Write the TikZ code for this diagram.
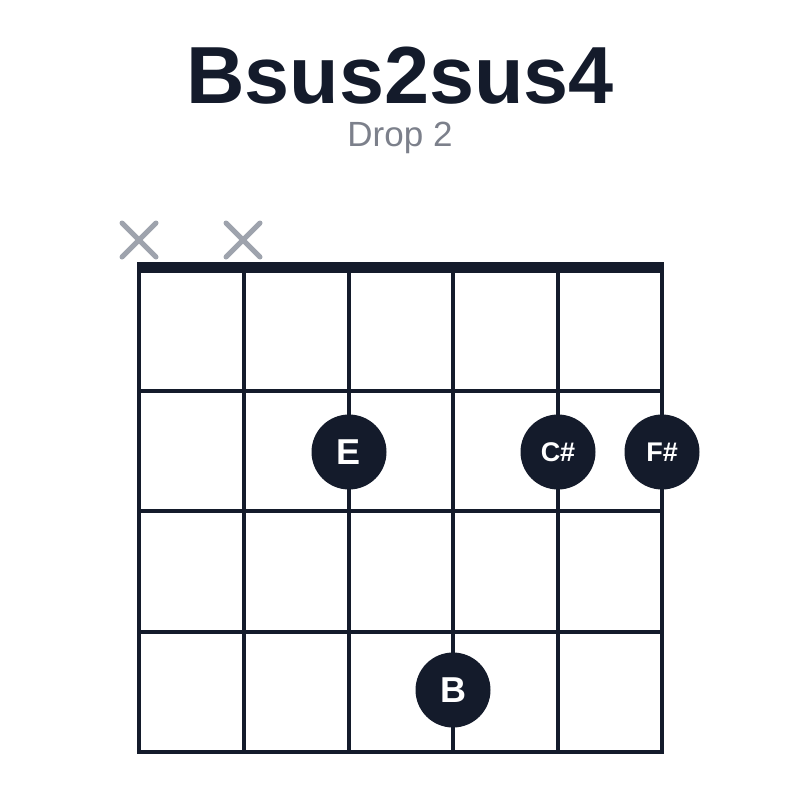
\documentclass[tikz,border=0pt]{standalone}
\usepackage{fontspec}
\setmainfont{Liberation Sans}
\usetikzlibrary{positioning}
\definecolor{ink}{HTML}{141B2B}
\definecolor{mute}{HTML}{7C808B}
\definecolor{xgray}{HTML}{9EA3AD}
\tikzset{dot/.style={circle, fill=ink, text=white, minimum size=75pt, inner sep=0pt, font=\bfseries\fontsize{36}{36}\selectfont}}
\tikzset{dotsmall/.style={dot, font=\bfseries\fontsize{27}{27}\selectfont}}
\tikzset{grid/.style={draw=ink, line width=3.6pt}}
\tikzset{mute/.style={draw=xgray, line width=5pt, line cap=round}}

\begin{document}
\begin{tikzpicture}[x=1pt, y=-1pt]
\useasboundingbox (0,0) rectangle (800,800);
\node (title) [anchor=base, text=ink, font=\bfseries\fontsize{81}{81}\selectfont] at (400,103) {Bsus2sus4};
\node (sub) [anchor=base, text=mute, font=\fontsize{35}{35}\selectfont] at (400,146) {Drop 2};

% strings
\path [grid] (139,267) -- (139,752);
\path [grid] (244,267) -- (244,752);
\path [grid] (349,267) -- (349,752);
\path [grid] (453,267) -- (453,752);
\path [grid] (558,267) -- (558,752);
\path [grid] (662,267) -- (662,752);
% frets
\path [grid] (139,391) -- (662,391);
\path [grid] (139,511) -- (662,511);
\path [grid] (139,632) -- (662,632);
\path [grid] (137.2,752) -- (663.8,752);
% nut
\path [draw=ink, line width=11pt] (137.2,267.5) -- (663.8,267.5);

% muted strings
\path [mute] (122,223) -- (156,257);
\path [mute] (122,257) -- (156,223);
\path [mute] (226,223) -- (260,257);
\path [mute] (226,257) -- (260,223);

\node (E) [dot] at (349,452) {E};
\node (Cs) [dotsmall] at (558,452) {C\#};
\node (Fs) [dotsmall] at (662,452) {F\#};
\node (B) [dot] at (453,690) {B};
\end{tikzpicture}
\end{document}
